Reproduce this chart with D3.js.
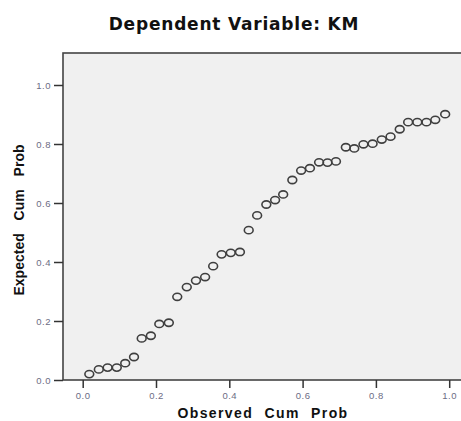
<!DOCTYPE html>
<html>
<head>
<meta charset="utf-8">
<script src="https://cdn.jsdelivr.net/npm/d3@7"></script>
<style>
  body { margin: 0; background: #fff; }
  svg { display: block; }
</style>
</head>
<body>
<div id="container"></div>
<script>
const size = { x: 461, y: 421 };
const plot = { left: 63, top: 53, right: 462, bottom: 380 };

// observed vs expected cumulative probability
const observed = [
  0.018, 0.044, 0.068, 0.093, 0.116, 0.140, 0.161, 0.186, 0.209, 0.235,
  0.258, 0.284, 0.309, 0.334, 0.356, 0.379, 0.404, 0.429, 0.453, 0.476,
  0.501, 0.525, 0.547, 0.572, 0.596, 0.620, 0.645, 0.668, 0.691, 0.718,
  0.741, 0.766, 0.791, 0.816, 0.840, 0.865, 0.888, 0.913, 0.938, 0.962,
  0.989
];
const expected = [
  0.020, 0.036, 0.042, 0.042, 0.057, 0.078, 0.141, 0.150, 0.190, 0.194,
  0.282, 0.315, 0.337, 0.349, 0.386, 0.426, 0.431, 0.434, 0.508, 0.558,
  0.595, 0.610, 0.629, 0.678, 0.710, 0.718, 0.738, 0.737, 0.741, 0.789,
  0.785, 0.799, 0.801, 0.815, 0.825, 0.850, 0.874, 0.874, 0.874, 0.882,
  0.901
];
const tickValues = [0, 0.2, 0.4, 0.6, 0.8, 1.0];

const svg = d3.select('#container').append('svg')
  .attr('width', size.x)
  .attr('height', size.y);

const x = d3.scaleLinear().domain([0, 1]).range([82.7, 449.2]);
const y = d3.scaleLinear().domain([0, 1]).range([380, 85]);

// plot frame
svg.append('rect')
  .attr('x', plot.left)
  .attr('y', plot.top)
  .attr('width', plot.right - plot.left)
  .attr('height', plot.bottom - plot.top)
  .attr('fill', '#f0f0f0')
  .attr('stroke', '#444')
  .attr('stroke-width', 1.6);

const fmt = d3.format('.1f');

const yAxis = svg.append('g')
  .attr('transform', 'translate(' + plot.left + ',0)')
  .call(d3.axisLeft(y).tickValues(tickValues).tickFormat(fmt).tickSize(9).tickSizeOuter(0));
const xAxis = svg.append('g')
  .attr('transform', 'translate(0,' + plot.bottom + ')')
  .call(d3.axisBottom(x).tickValues(tickValues).tickFormat(fmt).tickSize(8).tickSizeOuter(0));

[xAxis, yAxis].forEach((a) => {
  a.select('.domain').remove();
  a.selectAll('line').attr('stroke', '#333').attr('stroke-width', 1.5);
  a.selectAll('text')
    .attr('fill', '#6c6c84')
    .style('font', '9.5px "Liberation Sans", Arial, sans-serif')
    .style('letter-spacing', '0.5px');
});
yAxis.selectAll('text').attr('x', -12).attr('dy', '0.35em');
xAxis.selectAll('text').attr('y', 12);

// points
svg.append('g')
  .selectAll('ellipse')
  .data(observed)
  .enter()
  .append('ellipse')
  .attr('cx', (d) => x(d))
  .attr('cy', (d, i) => y(expected[i]))
  .attr('rx', 4.4)
  .attr('ry', 3.6)
  .attr('fill', 'none')
  .attr('stroke', '#3f3f3f')
  .attr('stroke-width', 1.6);

// titles
svg.append('text')
  .attr('x', 234)
  .attr('y', 30)
  .attr('text-anchor', 'middle')
  .style('font', 'bold 17px "DejaVu Sans", Verdana, sans-serif')
  .style('letter-spacing', '0.8px')
  .attr('fill', '#111')
  .text('Dependent Variable: KM');

svg.append('text')
  .attr('x', 263)
  .attr('y', 418)
  .attr('text-anchor', 'middle')
  .style('font', 'bold 14px "Liberation Sans", Arial, sans-serif')
  .style('letter-spacing', '1.4px')
  .style('word-spacing', '6px')
  .attr('fill', '#111')
  .text('Observed Cum Prob');

svg.append('text')
  .attr('transform', 'translate(24,220) rotate(-90)')
  .attr('text-anchor', 'middle')
  .style('font', 'bold 14px "Liberation Sans", Arial, sans-serif')
  .style('word-spacing', '9px')
  .attr('fill', '#111')
  .text('Expected Cum Prob');
</script>
</body>
</html>
